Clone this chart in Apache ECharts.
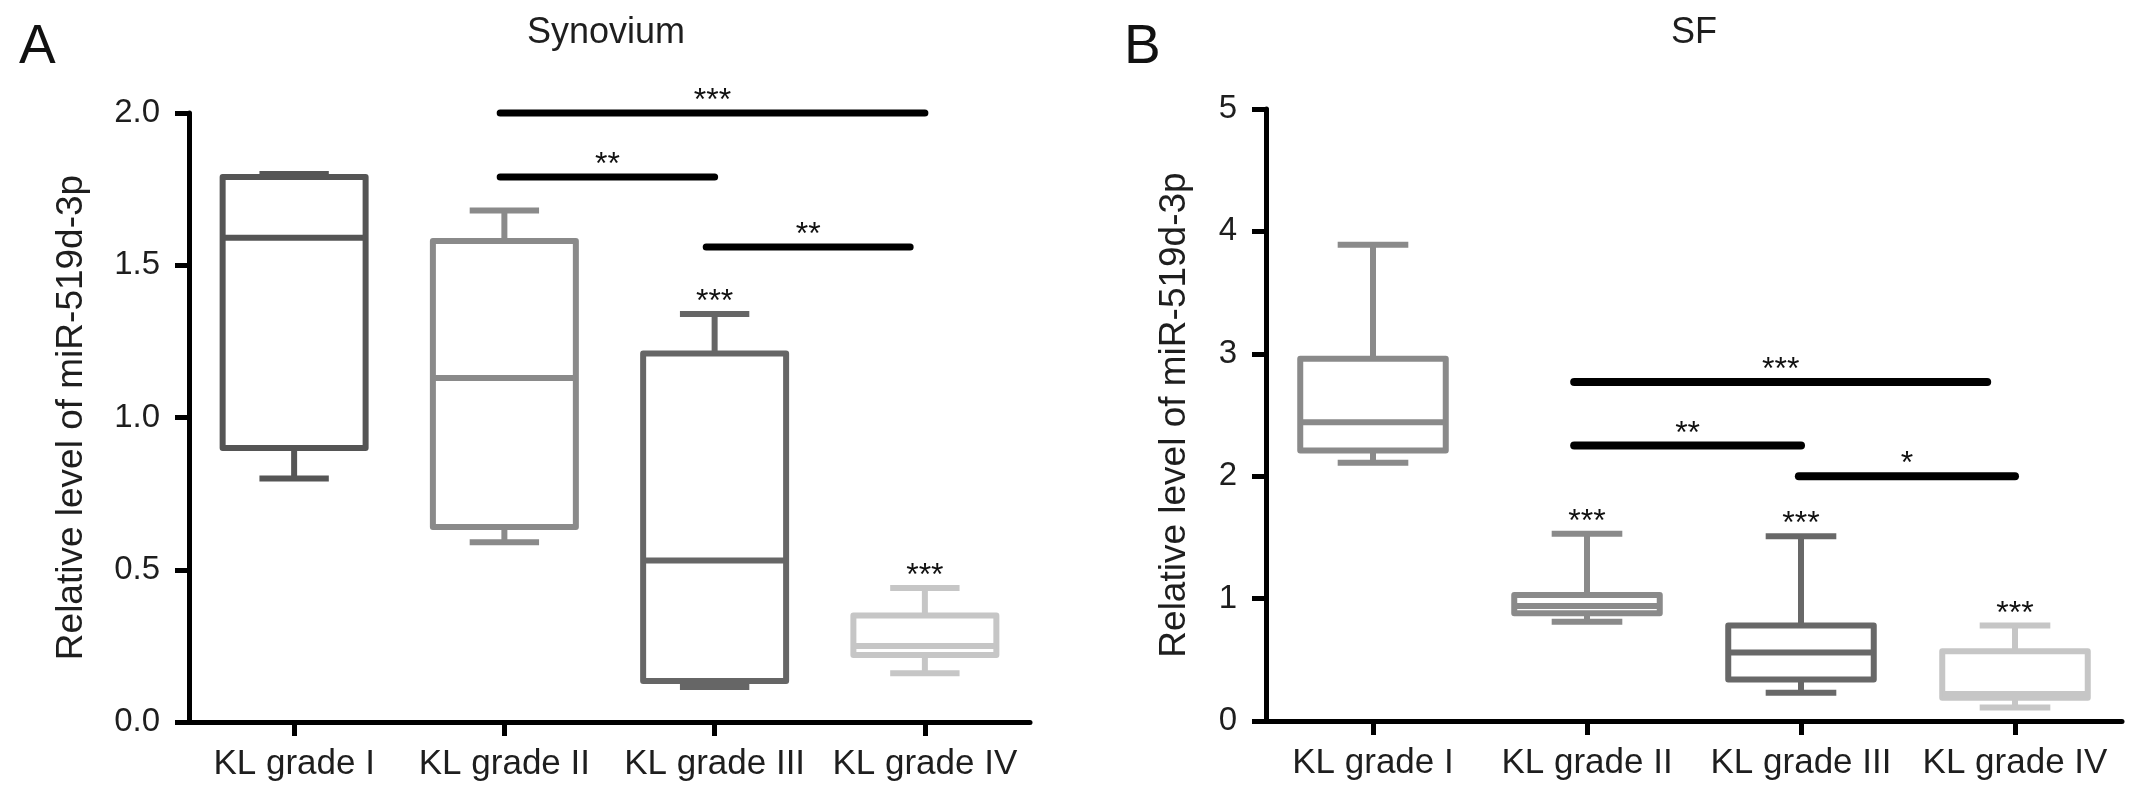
<!DOCTYPE html>
<html><head><meta charset="utf-8">
<script src="https://cdn.jsdelivr.net/npm/echarts@6/dist/echarts.min.js"></script>
<style>html,body{margin:0;padding:0;background:#fff}#c{width:2150px;height:800px}</style>
</head><body><div id="c"></div>
<script>
// ---------- data ----------
const categoriesA = ['KL grade I', 'KL grade II', 'KL grade III', 'KL grade IV'];
const categoriesB = ['KL grade I', 'KL grade II', 'KL grade III', 'KL grade IV'];
const yTicksA = ['0.0', '0.5', '1.0', '1.5', '2.0'];
const yTicksB = ['0', '1', '2', '3', '4', '5'];
// [min, Q1, median, Q3, max]
const boxA = [
  [0.80, 0.90, 1.59, 1.79, 1.80],
  [0.59, 0.64, 1.13, 1.58, 1.68],
  [0.115, 0.135, 0.53, 1.21, 1.34],
  [0.16, 0.22, 0.25, 0.35, 0.44]
];
const boxB = [
  [2.11, 2.21, 2.44, 2.96, 3.89],
  [0.81, 0.88, 0.94, 1.03, 1.53],
  [0.23, 0.34, 0.56, 0.78, 1.51],
  [0.11, 0.19, 0.22, 0.57, 0.78]
];
const colorsA = ['#555555', '#8a8a8a', '#666666', '#c6c6c6'];
const colorsB = ['#8a8a8a', '#8a8a8a', '#686868', '#c6c6c6'];
// significance bars (category index units)
const sigFromA = [0.98, 0.98, 1.96];
const sigToA = [3.0, 2.0, 2.93];
const sigLevelA = [2.0, 1.79, 1.56];
const sigTextA = ['***', '**', '**'];
const sigFromB = [0.94, 0.94, 1.99];
const sigToB = [2.87, 2.0, 3.0];
const sigLevelB = [2.77, 2.25, 2.0];
const sigTextB = ['***', '**', '*'];
// stars above groups
const groupStarIdxA = [2, 3];
const groupStarTextA = ['***', '***'];
const groupStarIdxB = [1, 2, 3];
const groupStarTextB = ['***', '***', '***'];

// ---------- rendering ----------
const FONT = "'Liberation Sans', Arial, Helvetica, sans-serif";
const TXT = '#1e1e1e';
const STAR_SIZE = 32;

function boxRender(stats, colors) {
  return function (params, api) {
    const i = params.dataIndex;
    const s = stats[i];
    const band = api.size([1, 0])[0];
    const bw = band * 0.34, cw = band * 0.165;
    const x = api.coord([i, 0])[0];
    const y = v => api.coord([i, v])[1];
    const st = { stroke: colors[i], lineWidth: 6, fill: null, lineJoin: 'round' };
    const yMin = y(s[0]), yQ1 = y(s[1]), yMed = y(s[2]), yQ3 = y(s[3]), yMax = y(s[4]);
    return {
      type: 'group',
      children: [
        { type: 'line', shape: { x1: x, y1: yQ3, x2: x, y2: yMax }, style: st },
        { type: 'line', shape: { x1: x - cw, y1: yMax, x2: x + cw, y2: yMax }, style: st },
        { type: 'line', shape: { x1: x, y1: yQ1, x2: x, y2: yMin }, style: st },
        { type: 'line', shape: { x1: x - cw, y1: yMin, x2: x + cw, y2: yMin }, style: st },
        { type: 'rect', shape: { x: x - bw, y: yQ3, width: 2 * bw, height: yQ1 - yQ3 }, style: Object.assign({}, st, { fill: 'rgba(0,0,0,0)' }) },
        { type: 'line', shape: { x1: x - bw, y1: yMed, x2: x + bw, y2: yMed }, style: st }
      ]
    };
  };
}

function starText(x, y, text) {
  return {
    type: 'text', x: x, y: y - 19 + 0.23 * STAR_SIZE,
    style: { text: text, fontSize: STAR_SIZE, fontFamily: FONT, fill: '#111', align: 'center', verticalAlign: 'middle' }
  };
}

function sigRender(from, to, lvl, txt, lw) {
  return function (params, api) {
    const i = params.dataIndex;
    const p1 = api.coord([from[i], lvl[i]]);
    const p2 = api.coord([to[i], lvl[i]]);
    return {
      type: 'group',
      children: [
        { type: 'line', shape: { x1: p1[0], y1: p1[1], x2: p2[0], y2: p2[1] }, style: { stroke: '#000', lineWidth: lw, lineCap: 'round' } },
        starText((p1[0] + p2[0]) / 2, p1[1], txt[i])
      ]
    };
  };
}

function groupStarRender(idx, stats, txt) {
  return function (params, api) {
    const i = params.dataIndex;
    const p = api.coord([idx[i], stats[idx[i]][4]]);
    return starText(p[0], p[1], txt[i]);
  };
}

function yAxis(grid, max, interval, ticks, gap) {
  return {
    type: 'value', gridIndex: grid, min: 0, max: max, interval: interval,
    axisLine: { show: true, onZero: false, lineStyle: { color: '#000', width: 5 } },
    axisTick: { show: true, length: 14, lineStyle: { color: '#000', width: 5 } },
    splitLine: { show: false },
    axisLabel: { formatter: (v, i) => ticks[i], fontSize: 33, color: TXT, margin: 29, fontFamily: FONT },
    name: 'Relative level of miR-519d-3p', nameLocation: 'middle', nameGap: gap,
    nameTextStyle: { fontSize: 37, color: TXT, fontFamily: FONT }
  };
}
function xCatAxis(grid, cats) {
  return {
    type: 'category', gridIndex: grid, data: cats, boundaryGap: true,
    axisLine: { show: true, onZero: false, lineStyle: { color: '#000', width: 5 } },
    axisTick: { show: true, alignWithLabel: true, length: 14, lineStyle: { color: '#000', width: 5 } },
    axisLabel: { fontSize: 35, color: TXT, margin: 25, fontFamily: FONT, interval: 0 },
    splitLine: { show: false }
  };
}
function xValAxis(grid) {
  return { type: 'value', gridIndex: grid, min: -0.5, max: 3.5, show: false };
}

const option = {
  backgroundColor: '#fff',
  animation: false,
  title: [
    { text: 'A', left: 14, top: 15, textStyle: { fontSize: 55, fontWeight: 'normal', color: '#111', fontFamily: FONT } },
    { text: 'B', left: 1119, top: 15, textStyle: { fontSize: 55, fontWeight: 'normal', color: '#111', fontFamily: FONT } },
    { text: 'Synovium', left: 601, textAlign: 'center', top: 10, textStyle: { fontSize: 36, fontWeight: 'normal', color: TXT, fontFamily: FONT } },
    { text: 'SF', left: 1689, textAlign: 'center', top: 10, textStyle: { fontSize: 36, fontWeight: 'normal', color: TXT, fontFamily: FONT } }
  ],
  grid: [
    { left: 189, top: 113, width: 841, height: 609 },
    { left: 1266, top: 109, width: 856, height: 612 }
  ],
  xAxis: [xCatAxis(0, categoriesA), xValAxis(0), xCatAxis(1, categoriesB), xValAxis(1)],
  yAxis: [yAxis(0, 2, 0.5, yTicksA, 99), yAxis(1, 5, 1, yTicksB, 73)],
  series: [
    {
      type: 'custom', xAxisIndex: 0, yAxisIndex: 0,
      data: categoriesA.map((c, i) => [i].concat(boxA[i])),
      encode: { x: 0, y: [1, 2, 3, 4, 5] },
      renderItem: boxRender(boxA, colorsA)
    },
    {
      type: 'custom', xAxisIndex: 1, yAxisIndex: 0,
      data: sigFromA.map((f, i) => [f, sigToA[i], sigLevelA[i]]),
      encode: { x: [0, 1], y: 2 },
      renderItem: sigRender(sigFromA, sigToA, sigLevelA, sigTextA, 7)
    },
    {
      type: 'custom', xAxisIndex: 0, yAxisIndex: 0,
      data: groupStarIdxA.map(i => [i, boxA[i][4]]),
      encode: { x: 0, y: 1 },
      renderItem: groupStarRender(groupStarIdxA, boxA, groupStarTextA)
    },
    {
      type: 'custom', xAxisIndex: 2, yAxisIndex: 1,
      data: categoriesB.map((c, i) => [i].concat(boxB[i])),
      encode: { x: 0, y: [1, 2, 3, 4, 5] },
      renderItem: boxRender(boxB, colorsB)
    },
    {
      type: 'custom', xAxisIndex: 3, yAxisIndex: 1,
      data: sigFromB.map((f, i) => [f, sigToB[i], sigLevelB[i]]),
      encode: { x: [0, 1], y: 2 },
      renderItem: sigRender(sigFromB, sigToB, sigLevelB, sigTextB, 8)
    },
    {
      type: 'custom', xAxisIndex: 2, yAxisIndex: 1,
      data: groupStarIdxB.map(i => [i, boxB[i][4]]),
      encode: { x: 0, y: 1 },
      renderItem: groupStarRender(groupStarIdxB, boxB, groupStarTextB)
    }
  ]
};
const chart = echarts.init(document.getElementById('c'), null, { renderer: 'canvas' });
chart.setOption(option);
</script>
</body></html>
